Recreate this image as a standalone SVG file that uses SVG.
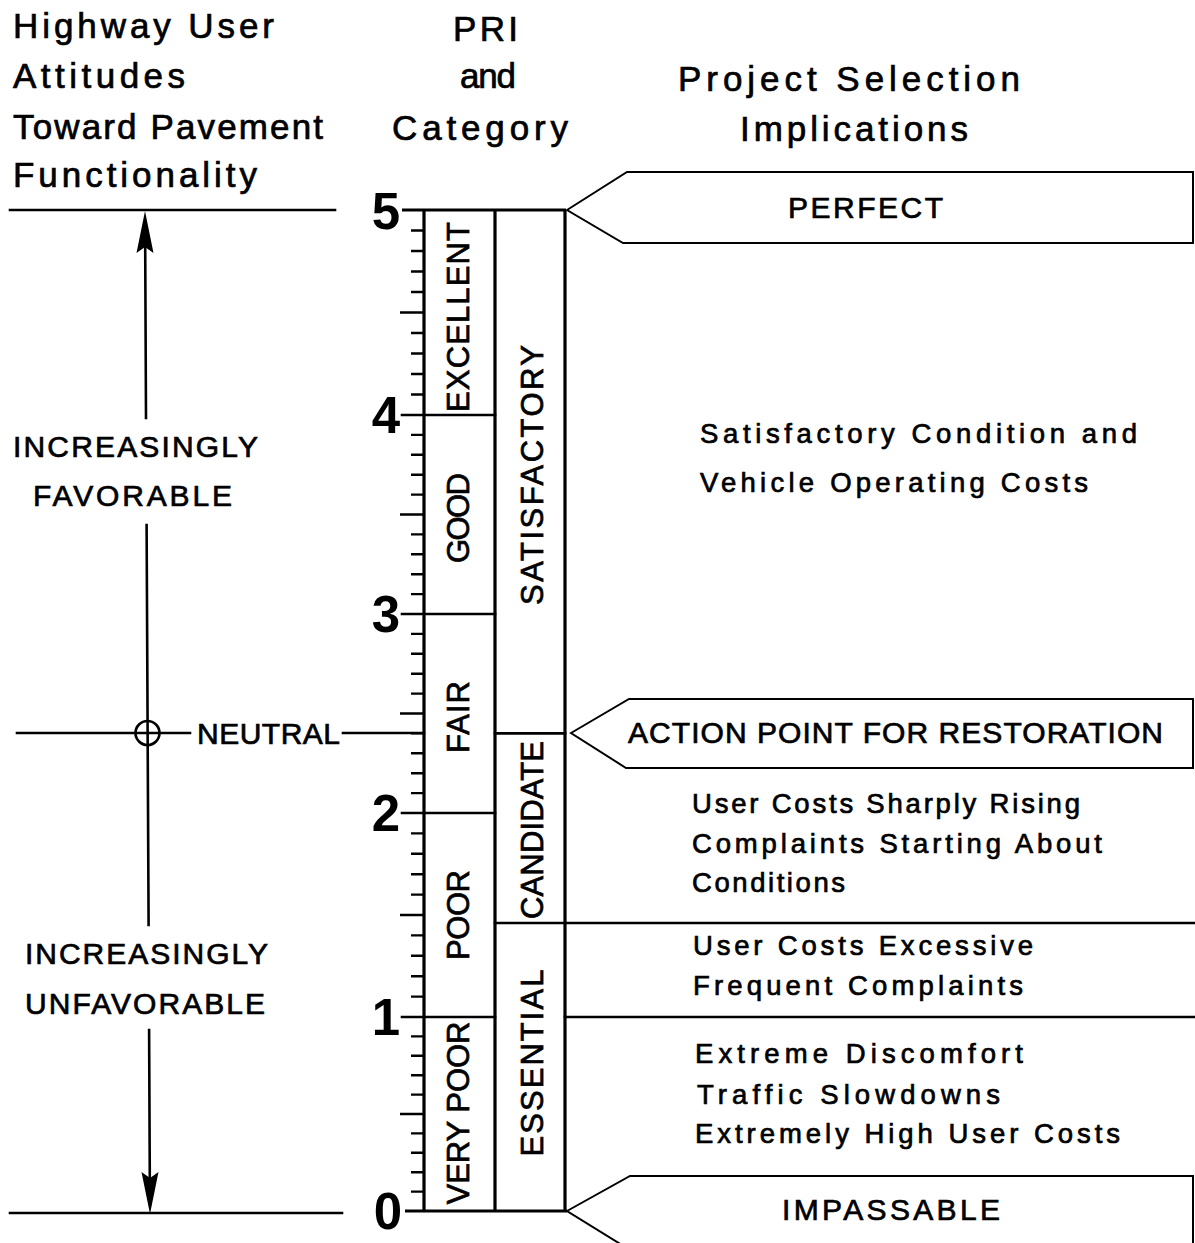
<svg xmlns="http://www.w3.org/2000/svg" width="1195" height="1243" viewBox="0 0 1195 1243">
  <style>
    .t { font-family: "Liberation Sans", Arial, sans-serif; fill: #000; stroke: #000; stroke-width: 0.7; }
    .hd { font-size: 35px; }
    .lab { font-size: 30px; }
    .col { font-size: 31px; }
    .txt { font-size: 27.5px; }
    .num { font-family: "Liberation Sans", Arial, sans-serif; font-weight: bold; font-size: 51px; text-anchor: end; }
    .ln { stroke: #000; stroke-width: 2.6; fill: none; stroke-linecap: square; }
    .bold { stroke: #000; stroke-width: 3.2; fill: none; }
    .tick { stroke: #000; stroke-width: 2.4; fill: none; }
    .tag { stroke: #000; stroke-width: 2; fill: #fff; stroke-linejoin: miter; }
  </style>
  <rect width="1195" height="1243" fill="#fff"/>

  <!-- column headings -->
  <g id="head-attitudes" class="t hd">
    <text x="13" y="38" textLength="261" lengthAdjust="spacing">Highway User</text>
    <text x="13" y="88" textLength="172" lengthAdjust="spacing">Attitudes</text>
    <text x="13" y="139" textLength="310" lengthAdjust="spacing">Toward Pavement</text>
    <text x="13" y="187" textLength="244" lengthAdjust="spacing">Functionality</text>
  </g>
  <g id="head-pri" class="t hd">
    <text x="453" y="41" textLength="65" lengthAdjust="spacing">PRI</text>
    <text x="460" y="88" textLength="56" lengthAdjust="spacing">and</text>
    <text x="392" y="140" textLength="176" lengthAdjust="spacing">Category</text>
  </g>
  <g id="head-implications" class="t hd">
    <text x="678" y="91" textLength="342" lengthAdjust="spacing">Project Selection</text>
    <text x="740" y="141" textLength="228" lengthAdjust="spacing">Implications</text>
  </g>

  <!-- user attitude axis -->
  <g id="attitude-axis">
    <path class="ln" d="M10 210 H335 M10 1213 H342"/>
    <path class="ln" d="M145.2 246 L146 418 M146.6 525 L148.6 925 M149.1 1030 L149.8 1179"/>
    <polygon points="145,211 153.5,253 145,247 136.5,253" fill="#000"/>
    <polygon points="150,1214 158.5,1172 150,1178 141.5,1172" fill="#000"/>
    <path class="ln" d="M17 733 H190 M343 733 H424"/>
    <circle cx="147.5" cy="733" r="12" fill="none" stroke="#000" stroke-width="2.6"/>
    <text class="t lab" x="197" y="744" textLength="143" lengthAdjust="spacing">NEUTRAL</text>
  </g>
  <g id="favorable" class="t lab">
    <text x="13" y="457" textLength="245" lengthAdjust="spacing">INCREASINGLY</text>
    <text x="33" y="506" textLength="199" lengthAdjust="spacing">FAVORABLE</text>
  </g>
  <g id="unfavorable" class="t lab">
    <text x="25" y="964" textLength="243" lengthAdjust="spacing">INCREASINGLY</text>
    <text x="25" y="1014" textLength="240" lengthAdjust="spacing">UNFAVORABLE</text>
  </g>

  <!-- PRI scale -->
  <g id="pri-scale">
    <path class="tick" d="M411 1191.6H424 M411 1172.2H424 M411 1152.8H424 M411 1133.4H424 M400 1114H424 M411 1094.6H424 M411 1075.2H424 M411 1055.8H424 M411 1036.4H424
      M411 996.6H424 M411 976.2H424 M411 955.8H424 M411 935.4H424 M400 915H424 M411 894.6H424 M411 874.2H424 M411 853.8H424 M411 833.4H424
      M411 793.1H424 M411 773.2H424 M411 753.3H424 M411 733.4H424 M400 713.5H424 M411 693.6H424 M411 673.7H424 M411 653.8H424 M411 633.9H424
      M411 594.1H424 M411 574.2H424 M411 554.3H424 M411 534.4H424 M400 514.5H424 M411 494.6H424 M411 474.7H424 M411 454.8H424 M411 434.9H424
      M411 394.5H424 M411 374H424 M411 353.5H424 M411 333H424 M400 312.5H424 M411 292H424 M411 271.5H424 M411 251H424 M411 230.5H424"/>
    <path class="ln" d="M402 415 H495 M402 614 H495 M402 813 H495 M402 1017 H495"/>
    <path class="bold" d="M402 210 H566 M405 1211 H567"/>
    <path class="bold" d="M424 210 V1211 M495 210 V1211 M565 210 V1211"/>
    <text class="num" x="400" y="229">5</text>
    <text class="num" x="400" y="433">4</text>
    <text class="num" x="400" y="632">3</text>
    <text class="num" x="400" y="831">2</text>
    <text class="num" x="400" y="1035">1</text>
    <text class="num" x="402" y="1229">0</text>
  </g>

  <!-- condition categories -->
  <g id="cat-excellent"><text class="t col" transform="translate(469 317) rotate(-90)" text-anchor="middle" textLength="190" lengthAdjust="spacing">EXCELLENT</text></g>
  <g id="cat-good"><text class="t col" transform="translate(469 518) rotate(-90)" text-anchor="middle" textLength="90" lengthAdjust="spacing">GOOD</text></g>
  <g id="cat-fair"><text class="t col" transform="translate(469 717) rotate(-90)" text-anchor="middle" textLength="72" lengthAdjust="spacing">FAIR</text></g>
  <g id="cat-poor"><text class="t col" transform="translate(469 915) rotate(-90)" text-anchor="middle" textLength="90" lengthAdjust="spacing">POOR</text></g>
  <g id="cat-very-poor"><text class="t col" transform="translate(469 1113) rotate(-90)" text-anchor="middle" textLength="183" lengthAdjust="spacing">VERY POOR</text></g>
  <g id="cat-satisfactory"><text class="t col" transform="translate(543 475) rotate(-90)" text-anchor="middle" textLength="260" lengthAdjust="spacing">SATISFACTORY</text></g>
  <g id="cat-candidate"><text class="t col" transform="translate(543 830) rotate(-90)" text-anchor="middle" textLength="178" lengthAdjust="spacing">CANDIDATE</text></g>
  <g id="cat-essential"><text class="t col" transform="translate(543 1063) rotate(-90)" text-anchor="middle" textLength="187" lengthAdjust="spacing">ESSENTIAL</text></g>

  <!-- implication boundaries -->
  <g id="boundaries">
    <path class="ln" d="M495 733.4 H565 M495 923 H1195 M565 1017 H1195"/>
  </g>

  <!-- pointer tags -->
  <g id="tag-perfect">
    <polygon class="tag" points="567,210 627,172 1193,172 1193,243 623,243"/>
    <text class="t lab" x="788" y="218" textLength="155" lengthAdjust="spacing">PERFECT</text>
  </g>
  <g id="tag-action">
    <polygon class="tag" points="571,733 629,699 1193,699 1193,768 626,768"/>
    <text class="t lab" x="628" y="743" textLength="535" lengthAdjust="spacing">ACTION POINT FOR RESTORATION</text>
  </g>
  <g id="tag-impassable">
    <polygon class="tag" points="567,1211 630,1176 1193,1176 1193,1250 630,1250"/>
    <text class="t lab" x="782" y="1220" textLength="218" lengthAdjust="spacing">IMPASSABLE</text>
  </g>

  <!-- implication notes -->
  <g id="note-satisfactory" class="t txt">
    <text x="700" y="443" textLength="437" lengthAdjust="spacing">Satisfactory Condition and</text>
    <text x="700" y="492" textLength="388" lengthAdjust="spacing">Vehicle Operating Costs</text>
  </g>
  <g id="note-candidate" class="t txt">
    <text x="692" y="813" textLength="388" lengthAdjust="spacing">User Costs Sharply Rising</text>
    <text x="692" y="853" textLength="410" lengthAdjust="spacing">Complaints Starting About</text>
    <text x="692" y="892" textLength="153" lengthAdjust="spacing">Conditions</text>
  </g>
  <g id="note-excessive" class="t txt">
    <text x="693" y="955" textLength="340" lengthAdjust="spacing">User Costs Excessive</text>
    <text x="693" y="995" textLength="330" lengthAdjust="spacing">Frequent Complaints</text>
  </g>
  <g id="note-essential" class="t txt">
    <text x="695" y="1063" textLength="328" lengthAdjust="spacing">Extreme Discomfort</text>
    <text x="697" y="1104" textLength="303" lengthAdjust="spacing">Traffic Slowdowns</text>
    <text x="695" y="1143" textLength="425" lengthAdjust="spacing">Extremely High User Costs</text>
  </g>
</svg>
